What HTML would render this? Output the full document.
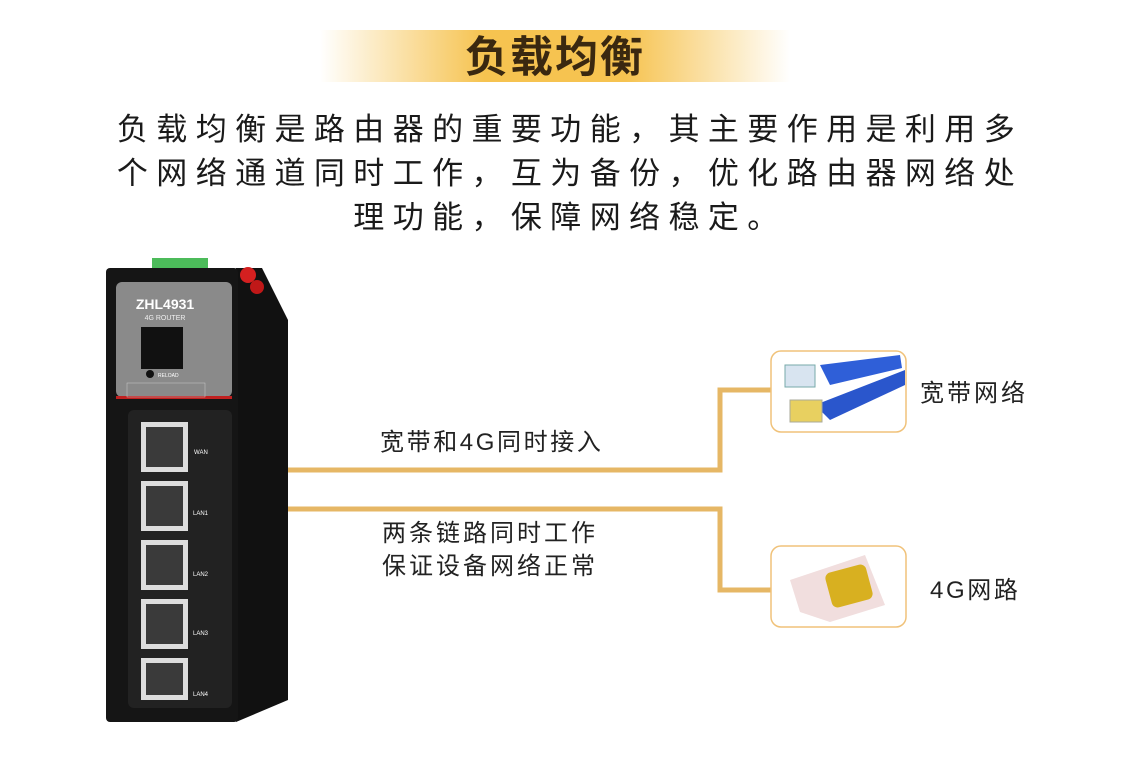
<!DOCTYPE html>
<html><head><meta charset="utf-8"><style>
body{margin:0;width:1140px;height:766px;background:#fff;position:relative;overflow:hidden;font-family:"Liberation Sans","Noto Sans CJK SC",sans-serif;color:#222}
.a{position:absolute}
.t{white-space:nowrap}
.l{font-size:24px;letter-spacing:2.6px}
</style></head><body>
<div class="a" style="left:320px;top:30px;width:470px;height:52px;background:linear-gradient(90deg,rgba(245,192,74,0) 0%,#f6c350 35%,#f6c350 65%,rgba(245,192,74,0) 100%)"></div>
<div class="a t" style="left:320px;top:30px;width:470px;height:56px;line-height:56px;text-align:center;font-size:43px;font-weight:bold;color:#3a2810;letter-spacing:2px">负载均衡</div>
<div class="a t" style="left:0;top:108px;width:1140px;text-align:center;font-size:31px;line-height:44px;letter-spacing:8.4px;color:#1a1a1a">负载均衡是路由器的重要功能，其主要作用是利用多<br>个网络通道同时工作，互为备份，优化路由器网络处<br>理功能，保障网络稳定。</div>

<svg class="a" style="left:0;top:0" width="1140" height="766">
<polyline points="288,470 720,470 720,390 772,390" fill="none" stroke="#e6b765" stroke-width="5"/>
<polyline points="288,509 720,509 720,590 772,590" fill="none" stroke="#e6b765" stroke-width="5"/>
<rect x="771" y="351" width="135" height="81" rx="10" fill="#fff" stroke="#f0c27a" stroke-width="1.5"/>
<rect x="771" y="546" width="135" height="81" rx="10" fill="#fff" stroke="#f0c27a" stroke-width="1.5"/>
<path d="M820,365 L900,355 L902,368 L830,385 Z" fill="#2f5fd8"/>
<path d="M815,405 L905,370 L905,385 L830,420 Z" fill="#2a56cc"/>
<rect x="785" y="365" width="30" height="22" fill="#d8e4f0" stroke="#7aa" />
<rect x="790" y="400" width="32" height="22" fill="#e8d060" stroke="#aa9"/>
<path d="M790,580 L865,555 L885,605 L830,622 L800,612 Z" fill="#f1dede"/>
<rect x="828" y="568" width="42" height="36" rx="6" fill="#d8b020" transform="rotate(-15 849 586)"/>
<path d="M236,268 L262,268 L288,320 L288,700 L236,722 Z" fill="#111"/>
<rect x="152" y="258" width="56" height="12" fill="#4cbb5a"/>
<circle cx="248" cy="275" r="8" fill="#d42020"/><circle cx="257" cy="287" r="7" fill="#c01818"/>
<rect x="106" y="268" width="132" height="454" rx="4" fill="#151515"/>
<rect x="116" y="282" width="116" height="115" rx="6" fill="#8a8a8a"/>
<rect x="116" y="396" width="116" height="3" fill="#c02020"/>
<text x="165" y="309" font-size="14" font-weight="bold" fill="#fff" text-anchor="middle" font-family="Liberation Sans">ZHL4931</text>
<text x="165" y="320" font-size="7" fill="#eee" text-anchor="middle" font-family="Liberation Sans">4G ROUTER</text>
<rect x="141" y="327" width="42" height="42" fill="#111"/>
<circle cx="150" cy="374" r="4" fill="#111"/>
<text x="158" y="377" font-size="5" fill="#fff" font-family="Liberation Sans">RELOAD</text>
<rect x="127" y="383" width="78" height="14" fill="none" stroke="#ccc" stroke-width="0.5"/>
<rect x="128" y="410" width="104" height="298" rx="6" fill="#222"/>
<g fill="#ddd">
<rect x="141" y="422" width="47" height="50"/><rect x="141" y="481" width="47" height="50"/><rect x="141" y="540" width="47" height="50"/><rect x="141" y="599" width="47" height="50"/><rect x="141" y="658" width="47" height="42"/>
</g>
<g fill="#3a3a3a">
<rect x="146" y="427" width="37" height="40"/><rect x="146" y="486" width="37" height="40"/><rect x="146" y="545" width="37" height="40"/><rect x="146" y="604" width="37" height="40"/><rect x="146" y="663" width="37" height="32"/>
</g>
<g font-size="6" fill="#fff" font-family="Liberation Sans"><text x="194" y="454">WAN</text><text x="193" y="515">LAN1</text><text x="193" y="576">LAN2</text><text x="193" y="635">LAN3</text><text x="193" y="696">LAN4</text></g>
</svg>
<div class="a t l" style="left:380px;top:422px">宽带和4G同时接入</div>
<div class="a t l" style="left:382px;top:517px;line-height:33px;letter-spacing:3px">两条链路同时工作<br>保证设备网络正常</div>
<div class="a t l" style="left:920px;top:373px;letter-spacing:3px">宽带网络</div>
<div class="a t l" style="left:930px;top:570px">4G网路</div>
</body></html>
